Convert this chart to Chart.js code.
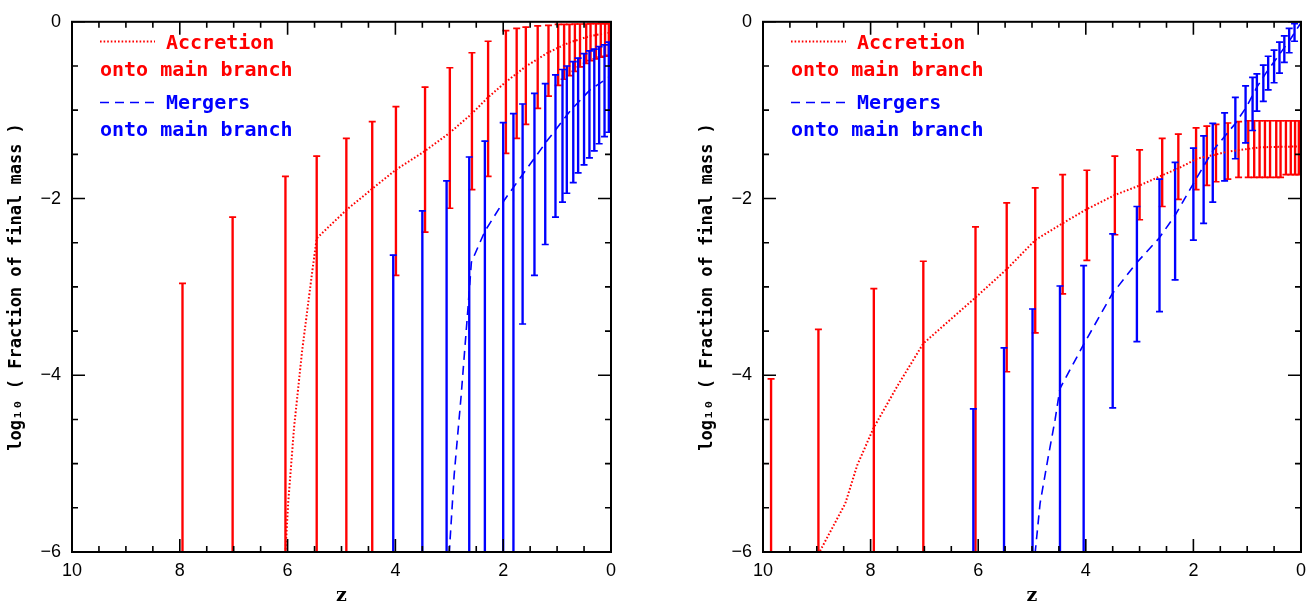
<!DOCTYPE html>
<html><head><meta charset="utf-8">
<script src="https://cdn.jsdelivr.net/npm/chart.js@4/dist/chart.umd.min.js"></script>
<style>
html,body{margin:0;padding:0;background:#fff;}
#wrap{position:relative;width:1314px;height:606px;overflow:hidden;background:#fff;}
.panel{position:absolute;top:0;height:606px;}
</style></head><body>
<div id="wrap">
<div class="panel" style="left:0;width:685px"><canvas id="c1" width="685" height="606"></canvas></div>
<div class="panel" style="left:691px;width:623px"><canvas id="c2" width="623" height="606"></canvas></div>
</div>
<script>
const RED = '#ff0000', BLUE = '#0000ff';

// ---------- Left panel ----------
const accZ_L  = [7.95, 7.02, 6.04, 5.46, 4.91, 4.43, 3.99, 3.45, 2.99, 2.58, 2.28, 1.95, 1.75, 1.58, 1.36, 1.16, 0.98, 0.87, 0.77, 0.67, 0.575, 0.46, 0.38, 0.28, 0.19, 0.11, 0.04];
const accHi_L = [-2.96, -2.21, -1.75, -1.52, -1.32, -1.13, -0.96, -0.74, -0.52, -0.35, -0.22, -0.10, -0.075, -0.06, -0.045, -0.04, -0.03, -0.03, -0.03, -0.025, -0.025, -0.025, -0.02, -0.02, -0.02, -0.02, -0.02];
const accLo_L = [-6, -6, -6, -6, -6, -6, -2.87, -2.38, -2.11, -1.90, -1.75, -1.49, -1.32, -1.16, -0.98, -0.84, -0.72, -0.65, -0.61, -0.56, -0.51, -0.47, -0.44, -0.42, -0.40, -0.39, -0.38];

const merZ_L  = [4.04, 3.50, 3.05, 2.63, 2.34, 2.00, 1.81, 1.64, 1.42, 1.22, 1.03, 0.90, 0.82, 0.70, 0.61, 0.50, 0.40, 0.31, 0.22, 0.12, 0.04];
const merHi_L = [-2.64, -2.14, -1.80, -1.53, -1.35, -1.14, -1.04, -0.93, -0.81, -0.70, -0.60, -0.54, -0.50, -0.45, -0.41, -0.36, -0.33, -0.31, -0.28, -0.26, -0.23];
const merLo_L = [-6, -6, -6, -6, -6, -6, -6, -3.42, -2.87, -2.52, -2.21, -2.04, -1.94, -1.82, -1.71, -1.62, -1.54, -1.46, -1.38, -1.30, -1.25];

const accLineZ_L = [10, 6.04, 5.99, 5.88, 5.73, 5.55, 5.46, 4.91, 4.43, 3.98, 3.47, 3.0, 2.6, 2.28, 1.95, 1.58, 1.16, 0.77, 0.38, 0];
const accLineV_L = [-6, -6, -5.45, -4.59, -3.72, -2.86, -2.45, -2.13, -1.89, -1.67, -1.47, -1.26, -1.05, -0.855, -0.68, -0.505, -0.345, -0.234, -0.16, -0.12];
const merLineZ_L = [10, 3.0, 2.91, 2.78, 2.66, 2.59, 2.34, 1.97, 1.63, 1.19, 0.76, 0.39, 0];
const merLineV_L = [-6, -6, -5.13, -4.23, -3.29, -2.72, -2.37, -2.01, -1.72, -1.35, -1.01, -0.77, -0.61];

// ---------- Right panel ----------
const accZ_R  = [9.85, 8.97, 7.94, 7.02, 6.05, 5.47, 4.94, 4.43, 3.98, 3.46, 3.00, 2.58, 2.28, 1.95, 1.75, 1.58, 1.36, 1.16, 0.98, 0.87, 0.77, 0.67, 0.575, 0.46, 0.38, 0.28, 0.19, 0.11, 0.04];
const accHi_R = [-4.04, -3.48, -3.02, -2.71, -2.32, -2.05, -1.88, -1.73, -1.68, -1.52, -1.45, -1.32, -1.27, -1.20, -1.18, -1.16, -1.145, -1.13, -1.12, -1.12, -1.12, -1.12, -1.12, -1.12, -1.12, -1.12, -1.12, -1.12, -1.12];
const accLo_R = [-6, -6, -6, -6, -6, -3.96, -3.52, -3.08, -2.70, -2.41, -2.24, -2.09, -2.01, -1.90, -1.85, -1.81, -1.78, -1.76, -1.76, -1.76, -1.76, -1.76, -1.76, -1.76, -1.76, -1.73, -1.73, -1.73, -1.73];

const merZ_R  = [6.09, 5.52, 4.99, 4.48, 4.04, 3.50, 3.05, 2.63, 2.34, 2.00, 1.81, 1.64, 1.42, 1.22, 1.03, 0.90, 0.82, 0.70, 0.61, 0.50, 0.40, 0.31, 0.22, 0.12];
const merHi_R = [-4.38, -3.69, -3.25, -2.99, -2.76, -2.40, -2.09, -1.78, -1.59, -1.43, -1.29, -1.15, -1.03, -0.855, -0.725, -0.63, -0.59, -0.49, -0.39, -0.32, -0.23, -0.16, -0.075, -0.02];
const merLo_R = [-6, -6, -6, -6, -6, -4.37, -3.62, -3.28, -2.92, -2.47, -2.28, -2.04, -1.80, -1.55, -1.37, -1.23, -1.01, -0.90, -0.77, -0.69, -0.58, -0.46, -0.35, -0.22];

const accLineZ_R = [10, 8.95, 8.47, 8.25, 7.94, 7.5, 7.02, 6.05, 5.47, 4.94, 4.43, 3.98, 3.46, 2.99, 2.59, 2.25, 1.94, 1.36, 0.76, 0];
const accLineV_R = [-6, -6, -5.45, -5.02, -4.59, -4.12, -3.64, -3.12, -2.80, -2.47, -2.28, -2.12, -1.96, -1.85, -1.74, -1.65, -1.55, -1.47, -1.42, -1.41];
const merLineZ_R = [10, 4.94, 4.85, 4.70, 4.57, 4.48, 4.03, 3.51, 3.06, 2.64, 2.34, 1.99, 1.64, 1.22, 1.01, 0.82, 0.64, 0.39, 0.20, 0];
const merLineV_R = [-6, -6, -5.45, -4.93, -4.50, -4.15, -3.64, -3.08, -2.73, -2.45, -2.19, -1.82, -1.46, -1.15, -0.96, -0.74, -0.57, -0.36, -0.20, -0.01];

// ---------- axes & text ----------
const xTickValues = [10, 8, 6, 4, 2, 0];
const xTickLabels = ['10', '8', '6', '4', '2', '0'];
const yTickValues = [-6, -4, -2, 0];
const yTickLabels = ['\u22126', '\u22124', '\u22122', '0'];
const xTitle = 'z';
const yTitle = 'log\u2081\u2080 ( Fraction of final mass )';
const legendAcc = ['Accretion', 'onto main branch'];
const legendMer = ['Mergers', 'onto main branch'];

const AXIS_MIN = -6;
const DOT = [1.6, 2.0];
const DASH = [9, 6];

function barData(z, lo, hi) { return z.map((v, i) => ({x: v, y: [lo[i], hi[i]]})); }
function capData(z, lo, hi) {
  const out = [];
  z.forEach((v, i) => { out.push({x: v, y: hi[i]}); if (lo[i] > AXIS_MIN) out.push({x: v, y: lo[i]}); });
  return out;
}
function lineData(z, v) { return z.map((a, i) => ({x: a, y: v[i]})); }

const frameTicks = {
  id: 'frameTicks',
  afterDraw(chart) {
    const {ctx, chartArea: a, scales: {x, y}} = chart;
    ctx.save();
    ctx.strokeStyle = '#000';
    ctx.lineWidth = 1.6;
    ctx.beginPath();
    for (let v = 0; v <= 10.001; v += 0.5) {
      const px = x.getPixelForValue(v);
      const L = (Math.abs(v % 2) < 1e-6) ? 13 : 6;
      ctx.moveTo(px, a.bottom); ctx.lineTo(px, a.bottom - L);
      ctx.moveTo(px, a.top); ctx.lineTo(px, a.top + L);
    }
    for (let v = -6; v <= 0.001; v += 0.5) {
      const py = y.getPixelForValue(v);
      const L = (Math.abs(v % 2) < 1e-6) ? 13 : 6;
      ctx.moveTo(a.left, py); ctx.lineTo(a.left + L, py);
      ctx.moveTo(a.right, py); ctx.lineTo(a.right - L, py);
    }
    ctx.stroke();
    ctx.lineWidth = 2;
    ctx.strokeRect(a.left, a.top, a.right - a.left, a.bottom - a.top);
    ctx.restore();
  }
};

const legendPlugin = {
  id: 'legendText',
  afterDraw(chart) {
    const {ctx, chartArea: a} = chart;
    const L = a.left;
    ctx.save();
    ctx.font = 'bold 20px "DejaVu Sans Mono"';
    ctx.textBaseline = 'alphabetic';
    ctx.textAlign = 'left';
    // accretion
    ctx.strokeStyle = RED; ctx.fillStyle = RED;
    ctx.lineWidth = 2;
    ctx.setLineDash(DOT);
    ctx.beginPath(); ctx.moveTo(L + 28, 41.5); ctx.lineTo(L + 83, 41.5); ctx.stroke();
    ctx.fillText(legendAcc[0], L + 94, 48.5);
    ctx.fillText(legendAcc[1], L + 28, 75.5);
    // mergers
    ctx.strokeStyle = BLUE; ctx.fillStyle = BLUE;
    ctx.lineWidth = 1.6;
    ctx.setLineDash(DASH);
    ctx.beginPath(); ctx.moveTo(L + 28, 102.5); ctx.lineTo(L + 83, 102.5); ctx.stroke();
    ctx.fillText(legendMer[0], L + 94, 108.5);
    ctx.fillText(legendMer[1], L + 28, 136);
    ctx.restore();
  }
};

function makePanel(id, rightPad, d) {
  return new Chart(document.getElementById(id), {
    type: 'scatter',
    data: {
      datasets: [
        {type: 'bar', data: barData(d.accZ, d.accLo, d.accHi), backgroundColor: RED, borderWidth: 0, barThickness: 1.7, grouped: false, order: 4},
        {type: 'scatter', data: capData(d.accZ, d.accLo, d.accHi), pointStyle: 'line', pointRadius: 3.5, pointBorderColor: RED, pointBackgroundColor: RED, pointBorderWidth: 1.7, showLine: false, order: 3},
        {type: 'bar', data: barData(d.merZ, d.merLo, d.merHi), backgroundColor: BLUE, borderWidth: 0, barThickness: 1.7, grouped: false, order: 2},
        {type: 'scatter', data: capData(d.merZ, d.merLo, d.merHi), pointStyle: 'line', pointRadius: 3.5, pointBorderColor: BLUE, pointBackgroundColor: BLUE, pointBorderWidth: 1.7, showLine: false, order: 1},
        {type: 'line', data: lineData(d.accLZ, d.accLV), borderColor: RED, borderWidth: 2, borderDash: DOT, pointRadius: 0, tension: 0, fill: false, order: 0},
        {type: 'line', data: lineData(d.merLZ, d.merLV), borderColor: BLUE, borderWidth: 1.6, borderDash: DASH, pointRadius: 0, tension: 0, fill: false, order: 0}
      ]
    },
    options: {
      responsive: false,
      animation: false,
      events: [],
      layout: {padding: {top: 14, right: rightPad, left: 0, bottom: 0}},
      plugins: {legend: {display: false}, tooltip: {enabled: false}},
      scales: {
        x: {
          type: 'linear', min: 0, max: 10, reverse: true, offset: false,
          grid: {display: false, drawTicks: false}, border: {display: false},
          ticks: {stepSize: 2, autoSkip: false, maxRotation: 0, padding: 8, color: '#000',
            font: {family: '"Liberation Sans", Arial, sans-serif', size: 18},
            callback: (v) => { const k = xTickValues.indexOf(v); return k < 0 ? '' : xTickLabels[k]; }},
          title: {display: true, text: xTitle, color: '#000', padding: {top: 0, bottom: 0},
            font: {family: '"DejaVu Serif", serif', size: 19, weight: 'bold', lineHeight: 1}},
          afterFit: (s) => { s.height = 54; }
        },
        y: {
          type: 'linear', min: -6, max: 0,
          grid: {display: false, drawTicks: false}, border: {display: false},
          ticks: {stepSize: 2, autoSkip: false, padding: 11, color: '#000',
            font: {family: '"Liberation Sans", Arial, sans-serif', size: 18},
            callback: (v) => { const k = yTickValues.indexOf(v); return k < 0 ? '' : yTickLabels[k]; }},
          title: {display: true, text: yTitle, color: '#000', padding: {top: 6, bottom: 0},
            font: {family: '"DejaVu Sans Mono", monospace', size: 17, weight: 'bold'}},
          afterFit: (s) => { s.width = 72; }
        }
      }
    },
    plugins: [frameTicks, legendPlugin]
  });
}

makePanel('c1', 74, {accZ: accZ_L, accHi: accHi_L, accLo: accLo_L, merZ: merZ_L, merHi: merHi_L, merLo: merLo_L,
  accLZ: accLineZ_L, accLV: accLineV_L, merLZ: merLineZ_L, merLV: merLineV_L});
makePanel('c2', 12, {accZ: accZ_R, accHi: accHi_R, accLo: accLo_R, merZ: merZ_R, merHi: merHi_R, merLo: merLo_R,
  accLZ: accLineZ_R, accLV: accLineV_R, merLZ: merLineZ_R, merLV: merLineV_R});
</script>
</body></html>
